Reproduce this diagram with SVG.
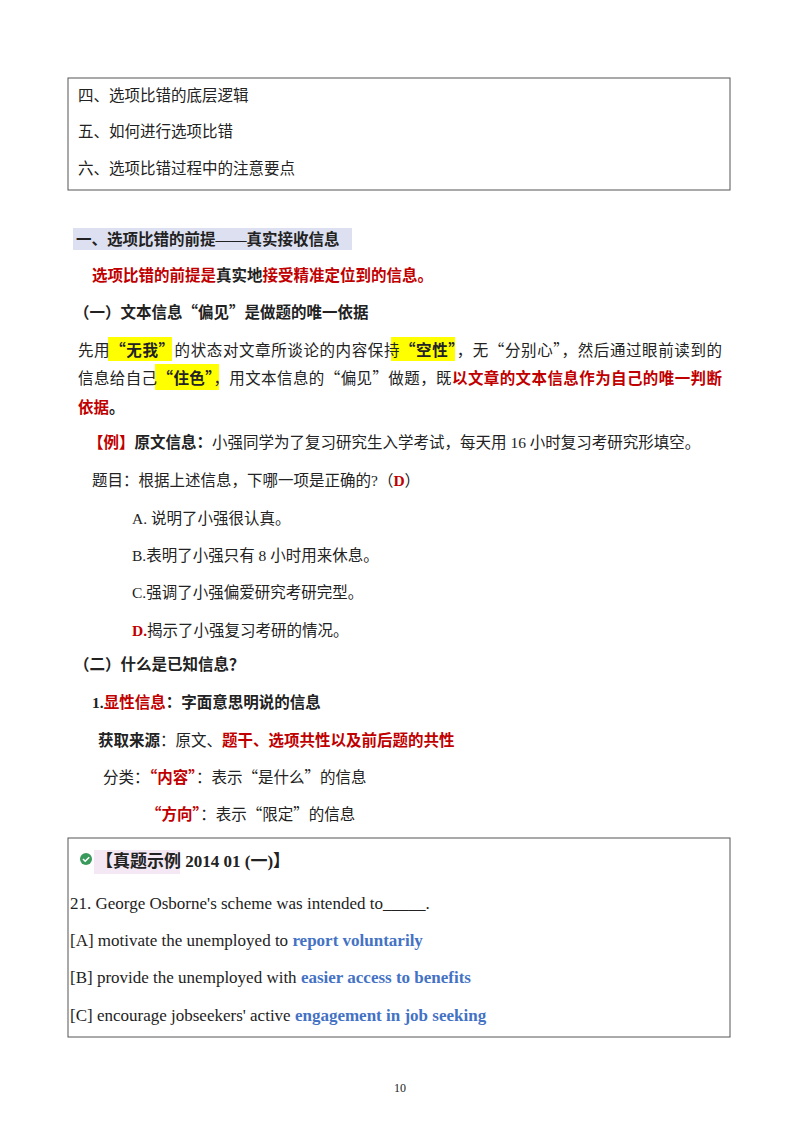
<svg xmlns="http://www.w3.org/2000/svg" width="800" height="1132" viewBox="0 0 800 1132">
<style>
text{font-family:"Liberation Serif","Noto Sans CJK SC",serif;font-size:15.5px;fill:#222}
.zh{font-family:"Noto Sans CJK SC",serif}
.b{font-weight:bold}
.r{fill:#c00000}
.en{font-size:17px}
.bl{fill:#4472c4;font-weight:bold}
.box{fill:none;stroke:#555;stroke-width:1}
</style>
<rect width="800" height="1132" fill="#fff"/>
<g id="toc">
<rect class="box" x="68" y="78" width="662" height="112"/>
<text x="78" y="101">四、选项比错的底层逻辑</text>
<text x="78" y="137">五、如何进行选项比错</text>
<text x="78" y="174">六、选项比错过程中的注意要点</text>
</g>
<g id="sec1">
<rect x="73" y="228" width="279" height="22" fill="#dde0f0"/>
<text class="b" x="76" y="245">一、选项比错的前提——真实接收信息</text>
<text class="b r" x="92" y="281">选项比错的前提是<tspan style="fill:#222">真实地</tspan>接受精准定位到的信息。</text>
<text class="b zh" x="74" y="318">（一）文本信息“偏见”是做题的唯一依据</text>
<rect x="108" y="337" width="64" height="24" fill="#ffff00"/>
<rect x="391" y="337" width="64" height="24" fill="#ffff00"/>
<rect x="155" y="364" width="64" height="26" fill="#ffff00"/>
<text class="zh" x="78" y="356" textLength="644" lengthAdjust="spacing">先用<tspan class="b">“无我”</tspan>的状态对文章所谈论的内容保持<tspan class="b">“空性”</tspan>，无“分别心”，然后通过眼前读到的</text>
<text class="zh" x="78" y="384" textLength="644" lengthAdjust="spacing">信息给自己<tspan class="b">“住色”</tspan>，用文本信息的“偏见”做题，既<tspan class="b r">以文章的文本信息作为自己的唯一判断</tspan></text>
<text class="b r zh" x="78" y="413">依据<tspan style="fill:#222">。</tspan></text>
</g>
<g id="example">
<text x="88" y="448"><tspan class="b r">【例】</tspan><tspan class="b">原文信息：</tspan>小强同学为了复习研究生入学考试，每天用 16 小时复习考研究形填空。</text>
<text x="92" y="486">题目：根据上述信息，下哪一项是正确的?（<tspan class="b r">D</tspan>）</text>
<text x="132" y="524">A. 说明了小强很认真。</text>
<text x="132" y="561">B.表明了小强只有 8 小时用来休息。</text>
<text x="132" y="598">C.强调了小强偏爱研究考研完型。</text>
<text x="132" y="636"><tspan class="b r">D.</tspan>揭示了小强复习考研的情况。</text>
</g>
<g id="sec2">
<text class="b" x="74" y="670">（二）什么是已知信息？</text>
<text class="b" x="92" y="708">1.<tspan class="r">显性信息</tspan>：字面意思明说的信息</text>
<text x="98" y="746"><tspan class="b">获取来源</tspan>：原文、<tspan class="b r">题干、选项共性以及前后题的共性</tspan></text>
<text class="zh" x="103" y="783">分类：<tspan class="b r">“内容”</tspan>：表示“是什么”的信息</text>
<text class="zh" x="146" y="820"><tspan class="b r">“方向”</tspan>：表示“限定”的信息</text>
</g>
<g id="case">
<rect class="box" x="68" y="838" width="662" height="199"/>
<circle cx="86" cy="859" r="6" fill="#3a9a5b"/>
<path d="M83 859l2.2 2.2 4-4" stroke="#fff" stroke-width="1.6" fill="none"/>
<rect x="94" y="850" width="86" height="24" fill="#f3e8f3"/>
<text class="b en" x="96" y="867">【真题示例 2014 01 (一)】</text>
<text class="en" x="70" y="909">21. George Osborne's scheme was intended to_____.</text>
<text class="en" x="70" y="946">[A] motivate the unemployed to <tspan class="bl">report voluntarily</tspan></text>
<text class="en" x="70" y="983">[B] provide the unemployed with <tspan class="bl">easier access to benefits</tspan></text>
<text class="en" x="70" y="1021">[C] encourage jobseekers' active <tspan class="bl">engagement in job seeking</tspan></text>
</g>
<text x="400" y="1092" text-anchor="middle" style="font-size:12px">10</text>
</svg>
